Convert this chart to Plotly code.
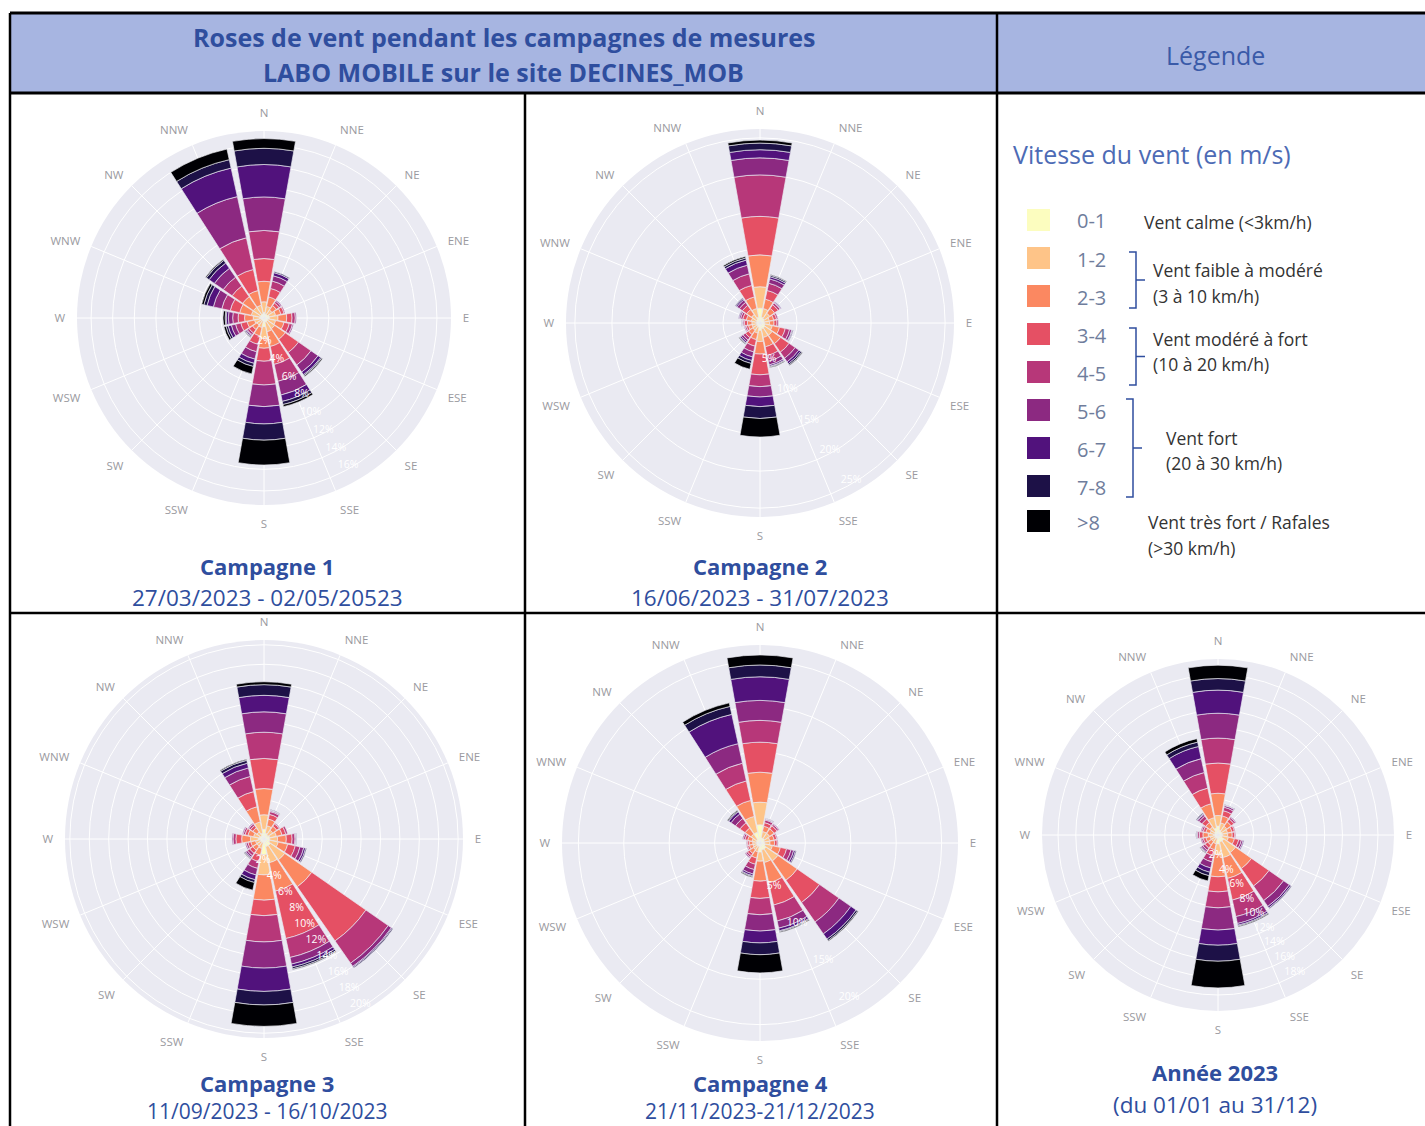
import plotly.graph_objects as go

W, H = 1425, 1126

# ---------------------------------------------------------------------------
# Data: frequency (% of time) per wind direction and speed class
# ---------------------------------------------------------------------------
DIRECTIONS = ["N", "NNE", "NE", "ENE", "E", "ESE", "SE", "SSE",
              "S", "SSW", "SW", "WSW", "W", "WNW", "NW", "NNW"]
SPEED_BINS = ["0-1", "1-2", "2-3", "3-4", "4-5", "5-6", "6-7", "7-8", ">8"]
BIN_COLORS = ["#fcfdbf", "#fec488", "#fb8861", "#e55064", "#b73779",
              "#8c2981", "#51127c", "#1d1147", "#000004"]

# one row per direction (same order as DIRECTIONS), one column per speed bin
CAMPAGNE_1 = [
    [0.5, 1.0, 1.9, 2.1, 2.6, 3.1, 3.0, 1.5, 0.9],
    [0.4, 0.7, 0.9, 0.8, 0.7, 0.5, 0.3, 0.1, 0.0],
    [0.4, 0.5, 0.5, 0.3, 0.2, 0.1, 0.0, 0.0, 0.0],
    [0.5, 0.6, 0.5, 0.3, 0.1, 0.0, 0.0, 0.0, 0.0],
    [0.5, 0.8, 0.8, 0.5, 0.3, 0.1, 0.0, 0.0, 0.0],
    [0.4, 0.7, 0.8, 0.5, 0.3, 0.1, 0.0, 0.0, 0.0],
    [0.4, 0.8, 1.2, 1.5, 1.4, 0.8, 0.3, 0.1, 0.1],
    [0.4, 0.9, 1.4, 1.7, 1.6, 1.3, 0.6, 0.3, 0.2],
    [0.8, 1.1, 0.9, 1.2, 2.2, 2.0, 1.6, 1.5, 2.3],
    [0.3, 0.6, 0.8, 0.8, 0.7, 0.7, 0.4, 0.3, 0.7],
    [0.3, 0.5, 0.5, 0.4, 0.2, 0.1, 0.1, 0.05, 0.05],
    [0.3, 0.6, 0.7, 0.6, 0.5, 0.4, 0.3, 0.2, 0.2],
    [0.4, 0.6, 0.8, 0.6, 0.5, 0.4, 0.2, 0.1, 0.2],
    [0.4, 0.8, 1.1, 0.9, 0.8, 0.8, 0.6, 0.3, 0.2],
    [0.4, 0.8, 1.2, 1.2, 1.0, 1.0, 0.6, 0.3, 0.1],
    [0.4, 0.8, 1.4, 2.0, 3.0, 3.9, 2.7, 0.8, 1.0],
]

CAMPAGNE_2 = [
    [2.0, 2.9, 4.3, 5.2, 5.6, 2.3, 1.1, 0.9, 0.4],
    [0.8, 1.2, 1.3, 1.2, 1.0, 0.6, 0.3, 0.2, 0.1],
    [0.7, 0.9, 0.8, 0.6, 0.3, 0.1, 0.1, 0.0, 0.0],
    [0.6, 0.7, 0.6, 0.4, 0.2, 0.0, 0.0, 0.0, 0.0],
    [0.6, 0.7, 0.6, 0.4, 0.2, 0.0, 0.0, 0.0, 0.0],
    [0.7, 1.0, 1.0, 0.8, 0.6, 0.3, 0.1, 0.1, 0.0],
    [0.8, 1.2, 1.4, 1.4, 1.0, 0.6, 0.3, 0.2, 0.1],
    [0.8, 1.2, 1.3, 1.2, 0.8, 0.5, 0.2, 0.1, 0.1],
    [1.0, 1.5, 1.7, 2.8, 1.6, 1.4, 1.3, 1.6, 2.5],
    [0.6, 0.8, 0.9, 0.9, 0.8, 0.7, 0.5, 0.4, 0.8],
    [0.5, 0.7, 0.7, 0.5, 0.4, 0.3, 0.2, 0.1, 0.1],
    [0.5, 0.6, 0.5, 0.3, 0.2, 0.1, 0.0, 0.0, 0.0],
    [0.5, 0.6, 0.6, 0.4, 0.2, 0.1, 0.05, 0.05, 0.0],
    [0.5, 0.7, 0.7, 0.5, 0.3, 0.2, 0.1, 0.0, 0.0],
    [0.6, 0.8, 0.8, 0.7, 0.5, 0.4, 0.2, 0.1, 0.0],
    [0.8, 1.2, 1.6, 1.6, 1.6, 1.2, 0.7, 0.3, 0.2],
]

CAMPAGNE_3 = [
    [1.0, 1.5, 2.7, 3.1, 2.7, 2.1, 1.7, 1.1, 0.3],
    [0.6, 0.8, 0.7, 0.5, 0.3, 0.1, 0.05, 0.05, 0.0],
    [0.5, 0.6, 0.5, 0.3, 0.1, 0.0, 0.0, 0.0, 0.0],
    [0.6, 0.7, 0.6, 0.4, 0.2, 0.0, 0.0, 0.0, 0.0],
    [0.6, 0.8, 0.9, 0.6, 0.3, 0.1, 0.05, 0.05, 0.0],
    [0.6, 0.9, 1.0, 0.8, 0.5, 0.4, 0.2, 0.1, 0.0],
    [0.8, 1.8, 3.4, 6.8, 2.8, 0.4, 0.1, 0.1, 0.0],
    [0.8, 1.7, 3.0, 5.0, 2.0, 0.7, 0.3, 0.2, 0.1],
    [1.6, 2.1, 2.6, 1.6, 2.7, 2.7, 2.4, 1.4, 2.2],
    [0.4, 0.6, 0.7, 0.7, 0.7, 0.7, 0.5, 0.3, 0.8],
    [0.4, 0.5, 0.5, 0.4, 0.3, 0.2, 0.1, 0.05, 0.05],
    [0.4, 0.5, 0.5, 0.3, 0.2, 0.1, 0.0, 0.0, 0.0],
    [0.6, 0.8, 0.9, 0.6, 0.3, 0.1, 0.0, 0.0, 0.0],
    [0.5, 0.6, 0.6, 0.3, 0.2, 0.1, 0.0, 0.0, 0.0],
    [0.4, 0.5, 0.5, 0.3, 0.2, 0.1, 0.0, 0.0, 0.0],
    [0.6, 1.2, 1.6, 1.6, 1.6, 0.9, 0.5, 0.3, 0.1],
]

CAMPAGNE_4 = [
    [2.0, 2.5, 3.3, 3.3, 2.4, 2.2, 2.6, 1.3, 1.1],
    [0.6, 0.7, 0.6, 0.4, 0.3, 0.1, 0.05, 0.05, 0.0],
    [0.6, 0.7, 0.6, 0.4, 0.2, 0.1, 0.0, 0.0, 0.0],
    [0.5, 0.6, 0.5, 0.3, 0.1, 0.0, 0.0, 0.0, 0.0],
    [0.5, 0.6, 0.5, 0.3, 0.1, 0.0, 0.0, 0.0, 0.0],
    [0.6, 0.8, 0.9, 0.7, 0.5, 0.3, 0.2, 0.1, 0.0],
    [0.8, 1.6, 2.6, 3.0, 2.6, 1.6, 0.7, 0.2, 0.1],
    [0.8, 1.4, 2.3, 2.5, 1.8, 0.8, 0.3, 0.1, 0.1],
    [1.0, 1.0, 2.2, 1.9, 1.8, 1.8, 1.3, 1.3, 2.0],
    [0.4, 0.6, 0.7, 0.7, 0.6, 0.5, 0.2, 0.1, 0.1],
    [0.4, 0.5, 0.5, 0.3, 0.2, 0.1, 0.0, 0.0, 0.0],
    [0.4, 0.4, 0.4, 0.2, 0.1, 0.0, 0.0, 0.0, 0.0],
    [0.4, 0.4, 0.4, 0.2, 0.1, 0.0, 0.0, 0.0, 0.0],
    [0.4, 0.5, 0.5, 0.3, 0.2, 0.1, 0.0, 0.0, 0.0],
    [0.5, 0.7, 0.8, 0.7, 0.6, 0.6, 0.3, 0.1, 0.1],
    [1.2, 1.8, 1.8, 2.2, 2.0, 2.2, 3.3, 0.9, 0.4],
]

ANNEE_2023 = [
    [1.0, 1.2, 2.5, 3.4, 2.8, 2.8, 2.6, 1.3, 1.5],
    [0.6, 0.8, 0.8, 0.6, 0.4, 0.2, 0.05, 0.05, 0.0],
    [0.5, 0.7, 0.6, 0.4, 0.2, 0.1, 0.0, 0.0, 0.0],
    [0.5, 0.6, 0.5, 0.3, 0.1, 0.0, 0.0, 0.0, 0.0],
    [0.5, 0.6, 0.5, 0.3, 0.1, 0.0, 0.0, 0.0, 0.0],
    [0.5, 0.7, 0.7, 0.5, 0.3, 0.2, 0.1, 0.0, 0.0],
    [0.8, 1.6, 2.2, 2.4, 2.0, 0.8, 0.2, 0.1, 0.0],
    [0.8, 1.8, 2.4, 2.5, 1.9, 0.8, 0.2, 0.1, 0.1],
    [1.0, 1.2, 2.5, 1.7, 1.8, 2.5, 1.7, 1.8, 3.0],
    [0.4, 0.6, 0.7, 0.7, 0.7, 0.7, 0.5, 0.4, 0.6],
    [0.4, 0.5, 0.5, 0.4, 0.3, 0.2, 0.1, 0.05, 0.05],
    [0.4, 0.5, 0.5, 0.3, 0.2, 0.1, 0.0, 0.0, 0.0],
    [0.5, 0.6, 0.6, 0.4, 0.2, 0.1, 0.05, 0.05, 0.0],
    [0.4, 0.5, 0.5, 0.3, 0.2, 0.1, 0.0, 0.0, 0.0],
    [0.5, 0.6, 0.6, 0.5, 0.4, 0.2, 0.1, 0.1, 0.0],
    [0.8, 1.2, 1.6, 1.8, 1.8, 1.6, 1.4, 0.5, 0.4],
]

# ---------------------------------------------------------------------------
# Layout helpers (pixel -> paper coordinates)
# ---------------------------------------------------------------------------
def px(x):
    return x / W


def py(y):
    return 1 - y / H


BLUE = "#2f4e9e"
FONT = "Open Sans"

# (table, centre x, centre y, radius px, radial max, radial step,
#  caption, dates, caption x, caption y, dates y, dates anchor, dates size)
ROSES = [
    (CAMPAGNE_1, 264, 318, 187, 17.3, 2, "Campagne 1", "27/03/2023 - 02/05/20523", 267, 566, 597, "middle", 22.5),
    (CAMPAGNE_2, 760, 323, 194, 26.2, 5, "Campagne 2", "16/06/2023 - 31/07/2023", 760, 566, 597, "middle", 22.5),
    (CAMPAGNE_3, 264, 839, 199, 20.5, 2, "Campagne 3", "11/09/2023 - 16/10/2023", 267, 1083, 1126, "bottom", 21),
    (CAMPAGNE_4, 760, 843, 198, 21.8, 5, "Campagne 4", "21/11/2023-21/12/2023", 760, 1083, 1126, "bottom", 21),
    (ANNEE_2023, 1218, 835, 176, 19.8, 2, "Année 2023", "(du 01/01 au 31/12)", 1215, 1072, 1104, "middle", 22.5),
]

fig = go.Figure()
layout_polars = {}
annotations = []

for i, (table, cx, cy, rad, rmax, step, title, dates, tx, ty, dy, danchor, dsize) in enumerate(ROSES):
    key = "polar" if i == 0 else f"polar{i + 1}"
    for k, name in enumerate(SPEED_BINS):
        fig.add_trace(go.Barpolar(
            r=[row[k] for row in table],
            theta=DIRECTIONS,
            name=name + " m/s",
            marker=dict(color=BIN_COLORS[k],
                        line=dict(color="rgba(234,234,242,0.85)", width=0.8)),
            subplot=key,
            showlegend=False,
        ))
    ticks = list(range(step, int(rmax) + 1, step))
    layout_polars[key] = dict(
        domain=dict(x=[px(cx - rad), px(cx + rad)], y=[py(cy + rad), py(cy - rad)]),
        bgcolor="#eaeaf2",
        bargap=0.1,
        angularaxis=dict(direction="clockwise", rotation=90, gridcolor="white",
                         showline=False, ticks="outside", ticklen=9,
                         tickcolor="rgba(0,0,0,0)",
                         tickfont=dict(family=FONT, size=11.5, color="#9a9aa0")),
        radialaxis=dict(range=[0, rmax], tickvals=ticks,
                        ticktext=[f"{t}%" for t in ticks],
                        angle=-55, tickangle=-55, showline=False, ticks="",
                        gridcolor="white",
                        tickfont=dict(family=FONT, size=10.5, color="white")),
    )
    annotations.append(dict(x=px(tx), y=py(ty), text=f"<b>{title}</b>",
                            font=dict(family=FONT, size=22, color=BLUE)))
    annotations.append(dict(x=px(tx), y=py(dy), text=dates, yanchor=danchor,
                            font=dict(family=FONT, size=dsize, color=BLUE)))

# ---------------------------------------------------------------------------
# Table frame and header
# ---------------------------------------------------------------------------
shapes = [
    dict(type="rect", x0=px(10), x1=px(1425), y0=py(93), y1=py(13),
         fillcolor="#a7b5e1", line=dict(width=0), layer="below"),
]
frame_lines = [
    (10, 13, 1425, 13, 3), (10, 93, 1425, 93, 3), (10, 613, 1425, 613, 2.5),
    (10, 13, 10, 1126, 2.5), (525, 93, 525, 1126, 2.5), (997, 13, 997, 1126, 2.5),
]
for x0, y0, x1, y1, w in frame_lines:
    shapes.append(dict(type="line", x0=px(x0), y0=py(y0), x1=px(x1), y1=py(y1),
                       line=dict(color="black", width=w)))

annotations += [
    dict(x=px(504), y=py(37), text="<b>Roses de vent pendant les campagnes de mesures</b>",
         font=dict(family=FONT, size=25, color=BLUE)),
    dict(x=px(504), y=py(72), text="<b>LABO MOBILE sur le site DECINES_MOB</b>",
         font=dict(family=FONT, size=25, color=BLUE)),
    dict(x=px(1215), y=py(55), text="Légende", font=dict(family=FONT, size=25, color="#3a5aa8")),
    dict(x=px(1012), y=py(154), text="Vitesse du vent (en m/s)", xanchor="left",
         font=dict(family=FONT, size=25, color="#4d6bb5")),
]

# ---------------------------------------------------------------------------
# Legend panel: colour swatches, speed classes and descriptions
# ---------------------------------------------------------------------------
SWATCH_Y = [220, 258, 296, 334, 372, 410, 448, 486, 521]
for color, label, yc in zip(BIN_COLORS, SPEED_BINS, SWATCH_Y):
    shapes.append(dict(type="rect", x0=px(1027), x1=px(1050), y0=py(yc + 11), y1=py(yc - 11),
                       fillcolor=color, line=dict(width=0)))
    annotations.append(dict(x=px(1076), y=py(yc + 1), text=label, xanchor="left",
                            font=dict(family=FONT, size=20, color="#6f7d9c")))

DESCRIPTIONS = [
    (1143, 222, "Vent calme (<3km/h)"),
    (1152, 270, "Vent faible à modéré"),
    (1152, 296, "(3 à 10 km/h)"),
    (1152, 339, "Vent modéré à fort"),
    (1152, 364, "(10 à 20 km/h)"),
    (1165, 438, "Vent fort"),
    (1165, 463, "(20 à 30 km/h)"),
    (1147, 522, "Vent très fort / Rafales"),
    (1147, 548, "(>30 km/h)"),
]
for x, y, t in DESCRIPTIONS:
    annotations.append(dict(x=px(x), y=py(y), text=t, xanchor="left",
                            font=dict(family=FONT, size=17.5, color="#333333")))

# brackets grouping the speed classes
BRACKETS = [(1136, 252, 308), (1136, 328, 385), (1133, 399, 497)]
for bx, top, bot in BRACKETS:
    mid = (top + bot) / 2
    path = (f"M {px(bx - 7)},{py(top)} L {px(bx)},{py(top)} L {px(bx)},{py(bot)} "
            f"L {px(bx - 7)},{py(bot)} M {px(bx)},{py(mid)} L {px(bx + 9)},{py(mid)}")
    shapes.append(dict(type="path", path=path, line=dict(color=BLUE, width=1.5)))

for a in annotations:
    a.update(xref="paper", yref="paper", showarrow=False, borderpad=0)
    a.setdefault("xanchor", "center")
    a.setdefault("yanchor", "middle")
for s in shapes:
    s.update(xref="paper", yref="paper")

fig.update_layout(
    width=W, height=H,
    margin=dict(l=0, r=0, t=0, b=0),
    paper_bgcolor="white",
    font=dict(family=FONT),
    shapes=shapes,
    annotations=annotations,
    **layout_polars,
)

fig.write_html("out.html")
